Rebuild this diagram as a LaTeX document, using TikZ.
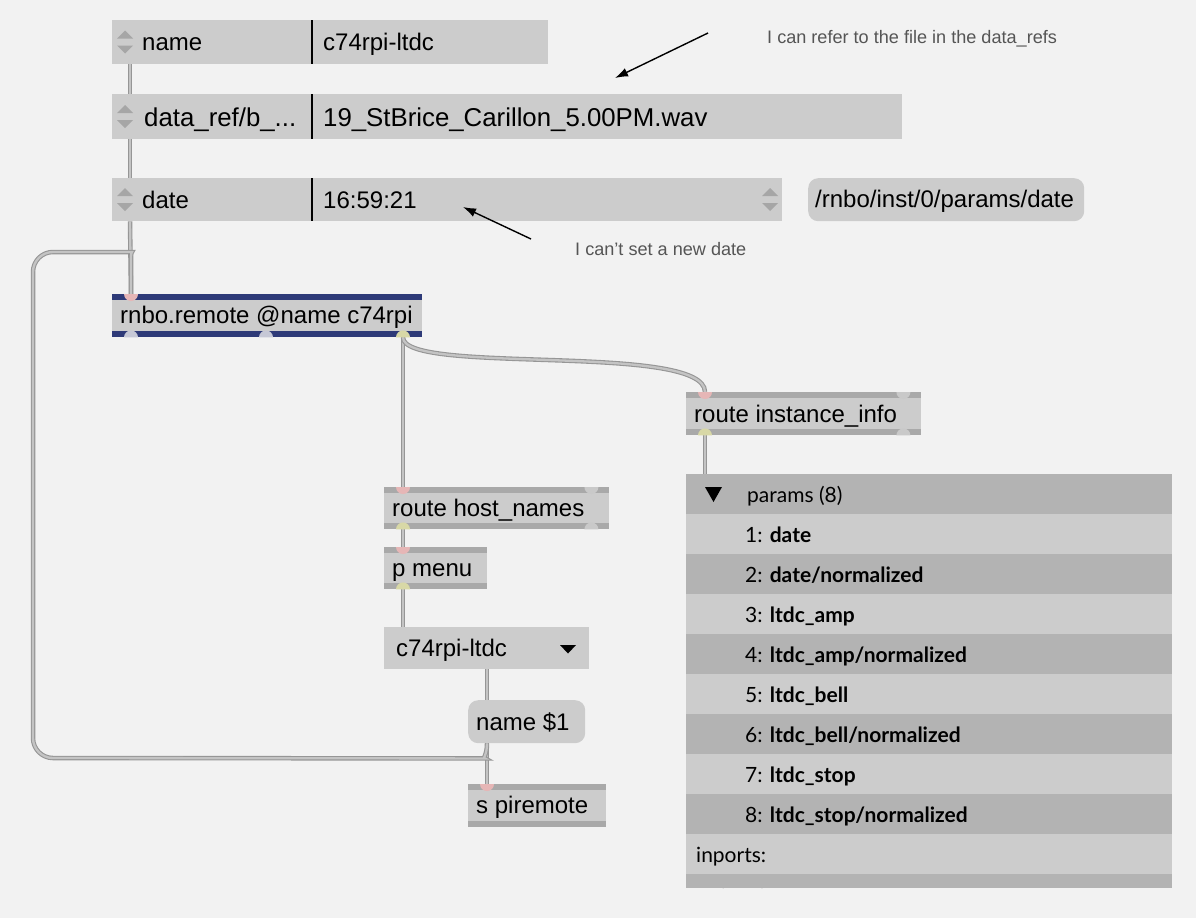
\documentclass[tikz,border=0pt]{standalone}
\usepackage{fontspec}
\setmainfont{Liberation Sans}
\newfontfamily\latofont{Lato}
\usetikzlibrary{calc,arrows.meta}
\definecolor{bg}{HTML}{F2F2F2}
\definecolor{boxg}{HTML}{CCCCCC}
\definecolor{stripg}{HTML}{A9A9A9}
\definecolor{rnboblue}{HTML}{2E3A78}
\definecolor{pinkport}{HTML}{E6B6B6}
\definecolor{yelport}{HTML}{D8D8A6}
\definecolor{grayport}{HTML}{C9C9C9}
\definecolor{blueport}{HTML}{C6C8D6}
\definecolor{rowdark}{HTML}{B3B3B3}
\definecolor{rowlight}{HTML}{CCCCCC}
\definecolor{notegray}{HTML}{555555}
\definecolor{tri}{HTML}{A6A6A6}
\definecolor{cordedge}{HTML}{969696}
\definecolor{cordfill}{HTML}{C4C4C4}
\newcommand\mxin[2]{\fill[#2] ($(#1)+(-7,0)$) arc[start angle=180,end angle=0,radius=7] -- cycle;}
\newcommand\mxout[2]{\fill[#2] ($(#1)+(-7,0)$) arc[start angle=180,end angle=360,radius=7] -- cycle;}
\newcommand\mxupdown[2]{%
  \fill[tri] (#1-8,#2-3.5) -- (#1+8,#2-3.5) -- (#1,#2-11.5) -- cycle;
  \fill[tri] (#1-8,#2+3.5) -- (#1+8,#2+3.5) -- (#1,#2+11.5) -- cycle;}
\begin{document}
\begin{tikzpicture}[x=1pt,y=-1pt,
  box/.style={fill=boxg,draw=none,inner sep=0,anchor=north west},
  msgbox/.style={box,rounded corners=10},
  objbox/.style={fill=stripg,draw=none,inner sep=0,anchor=north west},
  mx/.style={inner sep=0,anchor=base west,font=\fontsize{24}{29}\selectfont},
  mxbig/.style={mx,font=\fontsize{25.8}{30}\selectfont},
  note/.style={inner sep=0,anchor=base west,text=notegray,font=\fontsize{18.1}{22}\selectfont},
  cell/.style={inner sep=0,anchor=base west,font=\latofont\fontsize{21}{25}\selectfont},
  cord/.style={draw=cordedge,line width=1.1,double=cordfill,double distance=2.3},
  notearrow/.style={draw=black,line width=1.4,-{Latex[length=13,width=9]}}
]
\useasboundingbox (0,0) rectangle (1196,918);
\fill[bg] (0,0) rectangle (1196,918);

% ---------- number / attribute boxes ----------
\node[box,minimum width=436,minimum height=44] (nameBox) at (112,20) {};
\node[box,minimum width=790,minimum height=45] (dataBox) at (112,94) {};
\node[box,minimum width=670,minimum height=43] (dateBox) at (112,178) {};
\node[msgbox,minimum width=276,minimum height=43] (pathMsg) at (808,178) {};
\foreach \b in {nameBox,dataBox,dateBox}
  \draw[line width=2] ($(\b.north west)+(200,0)$) -- ($(\b.south west)+(200,0)$);
\mxupdown{125}{42}
\mxupdown{125}{116.5}
\mxupdown{125}{199.5}
\mxupdown{770}{199.5}

\node[mx] (tName) at (142,50) {name};
\node[mx] (vName) at (323,50) {c74rpi-ltdc};
\node[mxbig] (tData) at (144,126) {data\_ref/b\_...};
\node[mxbig] (vData) at (323,126) {19\_StBrice\_Carillon\_5.00PM.wav};
\node[mx] (tDate) at (142,208) {date};
\node[mx] (vDate) at (323,208) {16:59:21};
\node[mx] (tPath) at (815,207) {/rnbo/inst/0/params/date};

% ---------- annotations ----------
\node[note] (note1) at (767,43) {I can refer to the file in the data\_refs};
\node[note] (note2) at (575,255) {I can’t set a new date};
\coordinate (a1s) at (708,33);
\coordinate (a1e) at (615,78);
\coordinate (a2s) at (531,239);
\coordinate (a2e) at (463,207);
\draw[notearrow] (a1s) -- (a1e);
\draw[notearrow] (a2s) -- (a2e);

% ---------- rnbo.remote ----------
\node[box,fill=rnboblue,minimum width=310,minimum height=43] (rnbo) at (112,294) {};
\fill[boxg] ($(rnbo.north west)+(0,6)$) rectangle ($(rnbo.south east)+(0,-6)$);
\node[mx] (tRnbo) at (120,323) {rnbo.remote @name c74rpi};

% ---------- object boxes ----------
\node[objbox,minimum width=235,minimum height=43] (rii) at (686,392) {};
\node[objbox,minimum width=225,minimum height=42] (rhn) at (384,487) {};
\node[objbox,minimum width=103,minimum height=42] (pmenu) at (384,547) {};
\node[objbox,minimum width=138,minimum height=43] (spire) at (468,784) {};
\foreach \b in {rii,rhn,pmenu,spire}
  \fill[boxg] ($(\b.north west)+(0,6)$) rectangle ($(\b.south east)+(0,-6)$);
\node[mx] (tRii) at (694,422) {route instance\_info};
\node[mx] (tRhn) at (392,516) {route host\_names};
\node[mx] (tPm) at (392,576) {p menu};
\node[mx] (tSp) at (476,813) {s piremote};

% umenu and message
\node[box,minimum width=205,minimum height=42] (umenu) at (384,627) {};
\fill[black] (560,645) -- (576,645) -- (568,653.5) -- cycle;
\node[mx] (tUm) at (396,656) {c74rpi-ltdc};
\node[msgbox,minimum width=117,minimum height=43] (name1) at (468,700) {};
\node[mx] (tN1) at (476,730) {name \$1};

% ---------- table (dict view) ----------
\node[box,fill=rowdark,minimum width=486,minimum height=414] (table) at (686,474) {};
\foreach \i in {0,2,4,6,8}
  \fill[rowlight] ($(table.north west)+(0,40+40*\i)$) rectangle ($(table.north east)+(0,80+40*\i)$);
\fill[black] (705,487) -- (722,487) -- (713.5,502) -- cycle;
\node[cell] (hdr) at (747,502) {params (8)};
\node[cell] (r1) at (745,542) {1: \textbf{date}};
\node[cell] (r2) at (745,582) {2: \textbf{date/normalized}};
\node[cell] (r3) at (745,622) {3: \textbf{ltdc\_amp}};
\node[cell] (r4) at (745,662) {4: \textbf{ltdc\_amp/normalized}};
\node[cell] (r5) at (745,702) {5: \textbf{ltdc\_bell}};
\node[cell] (r6) at (745,742) {6: \textbf{ltdc\_bell/normalized}};
\node[cell] (r7) at (745,782) {7: \textbf{ltdc\_stop}};
\node[cell] (r8) at (745,822) {8: \textbf{ltdc\_stop/normalized}};
\node[cell] (rin) at (696,862) {inports:};
\begin{scope}
  \clip (686,874) rectangle (1172,888);
  \node[cell] (rout) at (696,903) {outports:};
\end{scope}

% ---------- port coordinates ----------
\coordinate (nameOut) at ($(nameBox.south west)+(18,0)$);
\coordinate (dataIn) at ($(dataBox.north west)+(18,0)$);
\coordinate (dataOut) at ($(dataBox.south west)+(18,0)$);
\coordinate (dateIn) at ($(dateBox.north west)+(18,0)$);
\coordinate (dateOut) at ($(dateBox.south west)+(18,0)$);
\coordinate (rnboIn) at ($(rnbo.north west)+(19,0)$);
\coordinate (rnboO1) at ($(rnbo.south west)+(19,0)$);
\coordinate (rnboO2) at ($(rnbo.south west)+(154,0)$);
\coordinate (rnboO3) at ($(rnbo.south west)+(291,0)$);
\coordinate (riiIn) at ($(rii.north west)+(19,0)$);
\coordinate (riiIn2) at ($(rii.north east)+(-18,0)$);
\coordinate (riiOut) at ($(rii.south west)+(19,0)$);
\coordinate (riiOut2) at ($(rii.south east)+(-18,0)$);
\coordinate (rhnIn) at ($(rhn.north west)+(19,0)$);
\coordinate (rhnIn2) at ($(rhn.north east)+(-18,0)$);
\coordinate (rhnOut) at ($(rhn.south west)+(19,0)$);
\coordinate (rhnOut2) at ($(rhn.south east)+(-18,0)$);
\coordinate (pmIn) at ($(pmenu.north west)+(19,0)$);
\coordinate (pmOut) at ($(pmenu.south west)+(19,0)$);
\coordinate (umIn) at ($(umenu.north west)+(19,0)$);
\coordinate (umOut) at ($(umenu.south west)+(103,0)$);
\coordinate (n1In) at ($(name1.north west)+(19,0)$);
\coordinate (n1Out) at ($(name1.south west)+(19,0)$);
\coordinate (spIn) at ($(spire.north west)+(19,0)$);
\coordinate (tabIn) at ($(table.north west)+(19,0)$);

% ---------- cords ----------
\draw[cord] (nameOut) -- (dataIn);
\draw[cord] (dataOut) -- (dateIn);
\draw[cord] (dateOut) -- (rnboIn);
\draw[cord] (rnboO3) -- (rhnIn);
\draw[cord] (rnboO3) .. controls ($(rnboO3)+(0,38)$) and ($(riiIn)+(0,-50)$) .. (riiIn);
\draw[cord] (riiOut) -- (tabIn);
\draw[cord] (rhnOut) -- (pmIn);
\draw[cord] (pmOut) -- (umIn);
\draw[cord] (umOut) -- (n1In);
\draw[cord] (n1Out) -- (spIn);
\draw[cord,rounded corners=20] (n1Out) .. controls ($(n1Out)+(0,13)$) and ($(n1Out)+(-5,15)$) .. ($(n1Out)+(-22,15)$)
   -- (33,758) -- (33,252) -- (112,252)
   .. controls ($(rnboIn)+(0,-42)$) and ($(rnboIn)+(0,-35)$) .. ($(rnboIn)+(0,-18)$) -- (rnboIn);

% ---------- ports ----------
\mxin{rnboIn}{pinkport}
\mxout{rnboO1}{blueport}
\mxout{rnboO2}{blueport}
\mxout{rnboO3}{yelport}
\mxin{riiIn}{pinkport}
\mxin{riiIn2}{grayport}
\mxout{riiOut}{yelport}
\mxout{riiOut2}{grayport}
\mxin{rhnIn}{pinkport}
\mxin{rhnIn2}{grayport}
\mxout{rhnOut}{yelport}
\mxout{rhnOut2}{grayport}
\mxin{pmIn}{pinkport}
\mxout{pmOut}{yelport}
\mxin{spIn}{pinkport}
\end{tikzpicture}
\end{document}
